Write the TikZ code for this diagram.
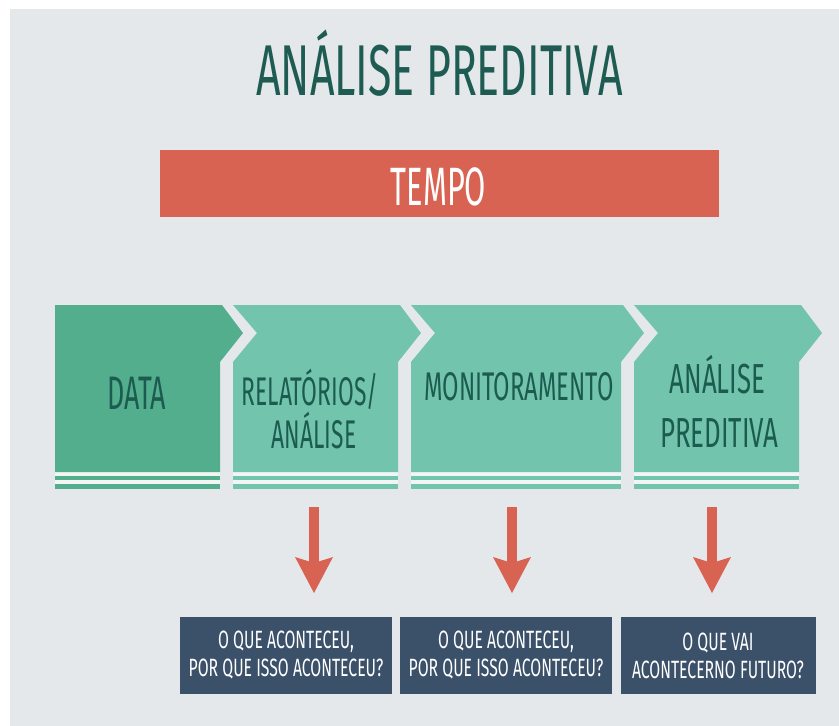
\documentclass[tikz,border=0pt]{standalone}
\usepackage{fontspec}
\setmainfont{Fira Sans}
\newfontfamily\cond[FakeStretch=0.57]{Fira Sans}
\newfontfamily\condT[FakeStretch=0.595]{Fira Sans}
\newfontfamily\condW[FakeStretch=0.615]{Fira Sans}
\newfontfamily\condB[FakeStretch=0.63]{Fira Sans}
\usetikzlibrary{arrows.meta}
\definecolor{bgc}{HTML}{E5E8EB}
\definecolor{titlec}{HTML}{1E5B52}
\definecolor{tempoc}{HTML}{D96352}
\definecolor{darkg}{HTML}{53AE8D}
\definecolor{lightg}{HTML}{73C4AD}
\definecolor{gapc}{HTML}{F1F5F3}
\definecolor{labc}{HTML}{1C5C50}
\definecolor{qc}{HTML}{3B5069}
\definecolor{arrc}{HTML}{D96352}
\tikzset{
  lab/.style={anchor=base, inner sep=0, text=labc, font=\cond\fontsize{40}{40}\selectfont},
  qbox/.style={fill=qc, inner sep=0, minimum height=77pt, text=white, align=center,
    font=\condB\fontsize{25}{28}\selectfont},
  downarrow/.style={draw=arrc, line width=10pt,
    -{Stealth[length=36pt,width=38pt,inset=6pt,line width=0pt,fill=arrc]}}
}
\newcommand\chevshape[4]{% L, R, colour, notch(1/0)
  \fill[gapc] (#1,472) rectangle (#2,489);
  \fill[#3] (#1,475.7) rectangle (#2,480.3);
  \fill[#3] (#1,484.3) rectangle (#2,489);
  \ifnum#4=1
    \fill[#3] (#1,305) -- ({#2+2},305) -- ({#2+23},333) -- (#2,362) -- (#2,472)
      -- (#1,472) -- (#1,362) -- ({#1+24},333) -- cycle;
  \else
    \fill[#3] (#1,305) -- ({#2+2},305) -- ({#2+23},333) -- (#2,362) -- (#2,472)
      -- (#1,472) -- cycle;
  \fi
}
\begin{document}
\begin{tikzpicture}[x=1pt,y=-1pt]
\useasboundingbox (0,0) rectangle (839,726);
\fill[white] (0,0) rectangle (839,726);
\fill[bgc] (10,9) rectangle (839,726);

% title
\node[anchor=base, inner sep=0, text=titlec, font=\condT\fontsize{72}{72}\selectfont]
  (title) at (439.5,95) {ANÁLISE PREDITIVA};

% tempo bar
\node[fill=tempoc, inner sep=0, minimum width=559pt, minimum height=67pt]
  (tempo) at (439.5,183.5) {};
\node[anchor=base, inner sep=0, text=white, font=\cond\fontsize{54}{54}\selectfont]
  (tempolbl) at (438.5,205) {TEMPO};

% chevrons
\chevshape{55}{220}{darkg}{0}
\chevshape{233}{398}{lightg}{1}
\chevshape{411}{621}{lightg}{1}
\chevshape{634}{799}{lightg}{1}

\node[lab, font=\cond\fontsize{47}{47}\selectfont] (data) at (136.5,409) {DATA};
\node[lab] (rel1) at (310,405) {RELATÓRIOS/};
\node[lab] (rel2) at (314,448) {ANÁLISE};
\node[lab, font=\condT\fontsize{40}{40}\selectfont] (mon) at (519,400) {MONITORAMENTO};
\node[lab, font=\condW\fontsize{42}{42}\selectfont] (pre1) at (717.5,393) {ANÁLISE};
\node[lab, font=\condW\fontsize{42}{42}\selectfont] (pre2) at (719.5,447) {PREDITIVA};

% arrows
\coordinate (a1s) at (314,507); \coordinate (a1e) at (314,593);
\coordinate (a2s) at (512,507); \coordinate (a2e) at (512,593);
\coordinate (a3s) at (712,507); \coordinate (a3e) at (712,593);
\draw[downarrow] (a1s) -- (a1e);
\draw[downarrow] (a2s) -- (a2e);
\draw[downarrow] (a3s) -- (a3e);

% question boxes
\node[qbox, minimum width=212pt] (q1) at (286,655.5) {O QUE ACONTECEU,\\POR QUE ISSO ACONTECEU?};
\node[qbox, minimum width=212pt] (q2) at (506,655.5) {O QUE ACONTECEU,\\POR QUE ISSO ACONTECEU?};
\node[qbox, minimum width=195pt] (q3) at (718,655.5) {O QUE VAI\\ACONTECERNO FUTURO?};
\end{tikzpicture}
\end{document}
